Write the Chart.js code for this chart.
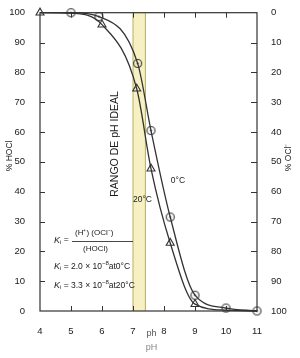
<!DOCTYPE html>
<html>
<head>
<meta charset="utf-8">
<script src="https://cdn.jsdelivr.net/npm/chart.js@4"></script>
<style>
html, body { margin: 0; padding: 0; background: #fff; }
#wrap { width: 300px; height: 358px; }
</style>
</head>
<body>
<div id="wrap"><canvas id="chart"></canvas></div>
<script>
/* Data */
// 0°C curve (circles)
let curvePh0C = [4, 5, 5.9, 7.15, 7.58, 8.2, 9, 10, 11]
let curveHocl0C = [100, 100, 98.7, 83, 60.5, 31.5, 5.3, 1, 0]
let markPh0C = [5, 5.9, 7.15, 7.58, 8.2, 9, 10, 11]
let markHocl0C = [100, 98.7, 83, 60.5, 31.5, 5.3, 1, 0]

// 20°C curve (triangles)
let curvePh20C = [4, 5, 6, 7.12, 7.58, 8.2, 9, 10, 11]
let curveHocl20C = [100, 99.8, 96, 74.5, 47.7, 22.8, 2.3, 0.3, 0]
let markPh20C = [4, 6, 7.12, 7.58, 8.2, 9]
let markHocl20C = [100, 96, 74.5, 47.7, 22.8, 2.3]

// ideal pH range band
let idealLow = 7.0
let idealHigh = 7.4

let phMin = 4
let phMax = 11

const FONT = "'Liberation Sans', Arial, sans-serif"
const INK = '#1a1a1a'

function toPoints(xs, ys) {
    return xs.map((x, i) => ({ x: x, y: ys[i] }))
}

// circle with a dot in the middle, used as point style
let dotCircle = document.createElement('canvas')
dotCircle.width = 11
dotCircle.height = 11
let dc = dotCircle.getContext('2d')
dc.strokeStyle = '#333'
dc.lineWidth = 1.1
dc.beginPath()
dc.arc(5.5, 5.5, 4, 0, Math.PI * 2)
dc.stroke()
dc.fillStyle = '#333'
dc.beginPath()
dc.arc(5.5, 5.5, 1, 0, Math.PI * 2)
dc.fill()

// draw a run of text pieces one after another
function drawRuns(ctx, x, y, runs) {
    ctx.textAlign = 'left'
    ctx.textBaseline = 'middle'
    runs.forEach(r => {
        ctx.font = r.font
        ctx.fillText(r.t, x, y + (r.dy || 0))
        x += ctx.measureText(r.t).width
    })
}

let decor = {
    id: 'decor',
    beforeDatasetsDraw(chart) {
        let ctx = chart.ctx
        let a = chart.chartArea
        let xs = chart.scales.x
        let x1 = xs.getPixelForValue(idealLow)
        let x2 = xs.getPixelForValue(idealHigh)
        ctx.save()
        ctx.fillStyle = '#f7f0c2'
        ctx.fillRect(x1, a.top, x2 - x1, a.bottom - a.top)
        ctx.strokeStyle = '#b9ad62'
        ctx.lineWidth = 1
        ctx.beginPath()
        ctx.moveTo(x1, a.top); ctx.lineTo(x1, a.bottom)
        ctx.moveTo(x2, a.top); ctx.lineTo(x2, a.bottom)
        ctx.stroke()
        ctx.restore()
    },
    afterDatasetsDraw(chart) {
        let ctx = chart.ctx
        let a = chart.chartArea
        let xs = chart.scales.x
        let ys = chart.scales.y
        ctx.save()

        // frame
        ctx.strokeStyle = '#333'
        ctx.lineWidth = 1.2
        ctx.strokeRect(a.left, a.top, a.right - a.left, a.bottom - a.top)

        // inner ticks
        ctx.lineWidth = 1
        ctx.beginPath()
        for (let p = phMin + 1; p < phMax; p++) {
            let px = Math.round(xs.getPixelForValue(p)) + 0.5
            ctx.moveTo(px, a.bottom); ctx.lineTo(px, a.bottom - 5)
            ctx.moveTo(px, a.top); ctx.lineTo(px, a.top + 5)
        }
        for (let v = 10; v < 100; v += 10) {
            let py = Math.round(ys.getPixelForValue(v)) + 0.5
            ctx.moveTo(a.left, py); ctx.lineTo(a.left + 5, py)
            ctx.moveTo(a.right, py); ctx.lineTo(a.right - 6, py)
        }
        ctx.stroke()

        ctx.fillStyle = INK

        // axis titles
        ctx.font = '8.5px ' + FONT
        ctx.textAlign = 'center'
        ctx.textBaseline = 'middle'
        ctx.save()
        ctx.translate(10, ys.getPixelForValue(52))
        ctx.rotate(-Math.PI / 2)
        ctx.fillText('% HOCl', 0, 0)
        ctx.restore()
        ctx.save()
        ctx.translate(289, ys.getPixelForValue(51.5))
        ctx.rotate(-Math.PI / 2)
        ctx.fillText('% OCl\u207B', 0, 0)
        ctx.restore()

        ctx.font = '9px ' + FONT
        ctx.fillStyle = '#555'
        ctx.fillText('ph', xs.getPixelForValue(7.6), a.bottom + 23)
        ctx.fillStyle = '#888'
        ctx.fillText('pH', xs.getPixelForValue(7.6), a.bottom + 37)
        ctx.fillStyle = INK

        // ideal range label
        ctx.save()
        ctx.translate(xs.getPixelForValue(6.42), ys.getPixelForValue(56))
        ctx.rotate(-Math.PI / 2)
        ctx.font = '10.5px ' + FONT
        ctx.fillText('RANGO DE pH IDEAL', 0, 0)
        ctx.restore()

        // curve labels
        ctx.font = '8.5px ' + FONT
        ctx.textAlign = 'left'
        ctx.fillText('0\u00B0C', xs.getPixelForValue(8.22), ys.getPixelForValue(43.7))
        ctx.fillText('20\u00B0C', xs.getPixelForValue(7.0), ys.getPixelForValue(37.4))

        // equilibrium constant
        let it = 'italic 9px ' + FONT
        let nf = '8.5px ' + FONT
        let sm = '6px ' + FONT
        let ex = xs.getPixelForValue(4.45)
        drawRuns(ctx, ex, ys.getPixelForValue(23.8), [
            { t: 'K', font: it }, { t: 'i', font: sm, dy: 2 }, { t: ' =', font: nf }
        ])
        ctx.font = '8px ' + FONT
        ctx.textAlign = 'left'
        ctx.fillText('(H\u207A) (OCl\u207B)', 75, ys.getPixelForValue(26.3))
        ctx.fillText('(HOCl)', 83, ys.getPixelForValue(21))
        ctx.lineWidth = 0.9
        ctx.beginPath()
        ctx.moveTo(72, Math.round(ys.getPixelForValue(23.6)) + 0.5)
        ctx.lineTo(xs.getPixelForValue(idealLow), Math.round(ys.getPixelForValue(23.6)) + 0.5)
        ctx.stroke()

        drawRuns(ctx, ex, ys.getPixelForValue(14.9), [
            { t: 'K', font: it }, { t: 'i', font: sm, dy: 2 },
            { t: ' = 2.0 \u00D7 10', font: nf }, { t: '\u22128', font: sm, dy: -3 },
            { t: 'at0\u00B0C', font: nf }
        ])
        drawRuns(ctx, ex, ys.getPixelForValue(8.6), [
            { t: 'K', font: it }, { t: 'i', font: sm, dy: 2 },
            { t: ' = 3.3 \u00D7 10', font: nf }, { t: '\u22128', font: sm, dy: -3 },
            { t: 'at20\u00B0C', font: nf }
        ])

        ctx.restore()
    }
}

let ctx = document.querySelector('#chart').getContext('2d')

let hoclChart = new Chart(ctx, {
    type: 'line',
    data: {
        datasets: [
            {
                label: '0°C curve',
                data: toPoints(curvePh0C, curveHocl0C),
                borderColor: '#333',
                borderWidth: 1.3,
                pointRadius: 0,
                cubicInterpolationMode: 'monotone',
                fill: false,
                clip: false
            },
            {
                label: '20°C curve',
                data: toPoints(curvePh20C, curveHocl20C),
                borderColor: '#333',
                borderWidth: 1.3,
                pointRadius: 0,
                cubicInterpolationMode: 'monotone',
                fill: false,
                clip: false
            },
            {
                type: 'scatter',
                label: '0°C',
                data: toPoints(markPh0C, markHocl0C),
                pointStyle: dotCircle,
                pointRadius: 5,
                clip: false
            },
            {
                type: 'scatter',
                label: '20°C',
                data: toPoints(markPh20C, markHocl20C),
                pointStyle: 'triangle',
                pointRadius: 4.6,
                borderColor: '#333',
                borderWidth: 1.1,
                backgroundColor: 'rgba(0,0,0,0)',
                clip: false
            }
        ]
    },
    options: {
        responsive: true,
        maintainAspectRatio: false,
        animation: false,
        layout: { padding: { top: 9, left: 0, right: 0, bottom: 0 } },
        plugins: {
            legend: { display: false },
            tooltip: { enabled: false }
        },
        scales: {
            x: {
                type: 'linear',
                min: phMin,
                max: phMax,
                grid: { display: false },
                border: { display: false },
                ticks: {
                    stepSize: 1,
                    padding: 7,
                    color: INK,
                    font: { family: FONT, size: 9.5 }
                },
                afterFit(scale) { scale.height = 47 }
            },
            y: {
                min: 0,
                max: 100,
                grid: { display: false },
                border: { display: false },
                ticks: {
                    stepSize: 10,
                    padding: 7,
                    color: INK,
                    font: { family: FONT, size: 9.5 }
                },
                afterFit(scale) { scale.width = 40 }
            },
            y2: {
                position: 'right',
                reverse: true,
                min: 0,
                max: 100,
                grid: { display: false },
                border: { display: false },
                ticks: {
                    stepSize: 10,
                    padding: 6,
                    color: INK,
                    font: { family: FONT, size: 9.5 }
                },
                afterFit(scale) { scale.width = 43 }
            }
        }
    },
    plugins: [decor]
})
</script>
</body>
</html>
